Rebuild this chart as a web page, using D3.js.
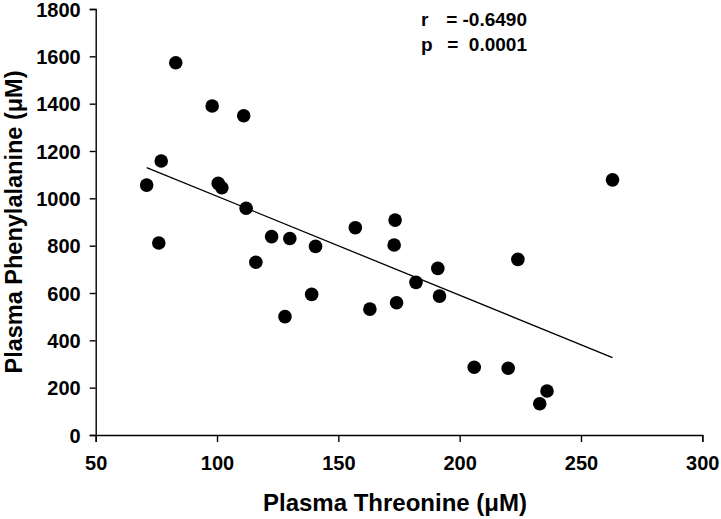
<!DOCTYPE html>
<html>
<head>
<meta charset="utf-8">
<script src="https://cdn.jsdelivr.net/npm/d3@7"></script>
<style>
  body { margin: 0; background: #fff; }
  svg { display: block; }
  text { font-family: "Liberation Sans", Arial, sans-serif; font-weight: bold; fill: #000; }
</style>
</head>
<body>
<svg id="chart" width="721" height="519"></svg>
<script>
// Data
const threonine = [71, 76, 77, 83, 98, 100.5, 102, 111, 112, 116, 122.5, 128, 130, 139, 140.6, 157, 163, 173.4, 173, 174, 182, 191, 191.7, 206, 220, 224, 233, 236, 263];
const phenylalanine = [1056, 811, 1158, 1573, 1390, 1063, 1045, 1349, 958, 730, 838, 500, 830, 594, 797, 876, 532, 908, 803, 559, 645, 704, 587, 286, 282, 742, 132, 186, 1078];
const fitX = [71, 263];
const fitY = [1130, 327];
const xTicks = [50, 100, 150, 200, 250, 300];
const yTicks = [0, 200, 400, 600, 800, 1000, 1200, 1400, 1600, 1800];
const statLines = [["r", "= -0.6490"], ["p", "=  0.0001"]];
const xTitle = "Plasma Threonine (μM)";
const yTitle = "Plasma Phenylalanine (μM)";

const svg = d3.select("#chart");
const x = d3.scaleLinear().domain([50, 300]).range([95.7, 702.3]);
const y = d3.scaleLinear().domain([0, 1800]).range([435, 9]);

const xAxis = svg.append("g")
  .attr("transform", `translate(0,${y(0)})`)
  .call(d3.axisBottom(x).tickValues(xTicks).tickFormat(d3.format("d"))
    .tickSizeOuter(0).tickSize(7).tickPadding(14));
const yAxis = svg.append("g")
  .attr("transform", `translate(${x(50)},0)`)
  .call(d3.axisLeft(y).tickValues(yTicks).tickFormat(d3.format("d"))
    .tickSizeOuter(0).tickSize(6).tickPadding(9));

[xAxis, yAxis].forEach(g => {
  g.select(".domain").attr("stroke", "#000").attr("stroke-width", 1.4);
  g.selectAll(".tick line").attr("stroke", "#000").attr("stroke-width", 1.4);
  g.selectAll(".tick text").attr("fill", "#000")
    .style("font-family", '"Liberation Sans", Arial, sans-serif')
    .style("font-weight", "bold").style("font-size", "20px");
});
yAxis.selectAll(".tick text").attr("dy", "0.36em");

// regression line
const fit = fitX.map((v, i) => [v, fitY[i]]);
svg.append("path")
  .attr("d", d3.line().x(d => x(d[0])).y(d => y(d[1]))(fit))
  .attr("stroke", "#000").attr("stroke-width", 1.3).attr("fill", "none");

// points
svg.append("g").selectAll("circle")
  .data(threonine.map((v, i) => [v, phenylalanine[i]]))
  .join("circle")
  .attr("cx", d => x(d[0])).attr("cy", d => y(d[1]))
  .attr("r", 6.8).attr("fill", "#000");

// titles
svg.append("text")
  .attr("x", 395).attr("y", 511)
  .attr("text-anchor", "middle").style("font-size", "24px")
  .text(xTitle);
svg.append("text")
  .attr("transform", "translate(21.5,222) rotate(-90)")
  .attr("text-anchor", "middle").style("font-size", "23.5px")
  .text(yTitle);

// stats
const st = svg.append("g").style("font-size", "19px");
statLines.forEach((s, i) => {
  st.append("text").attr("x", 421).attr("y", 26 + i * 25).text(s[0]);
  st.append("text").attr("x", 527).attr("y", 26 + i * 25).attr("text-anchor", "end")
    .attr("xml:space", "preserve").style("white-space", "pre").text(s[1]);
});
</script>
</body>
</html>
